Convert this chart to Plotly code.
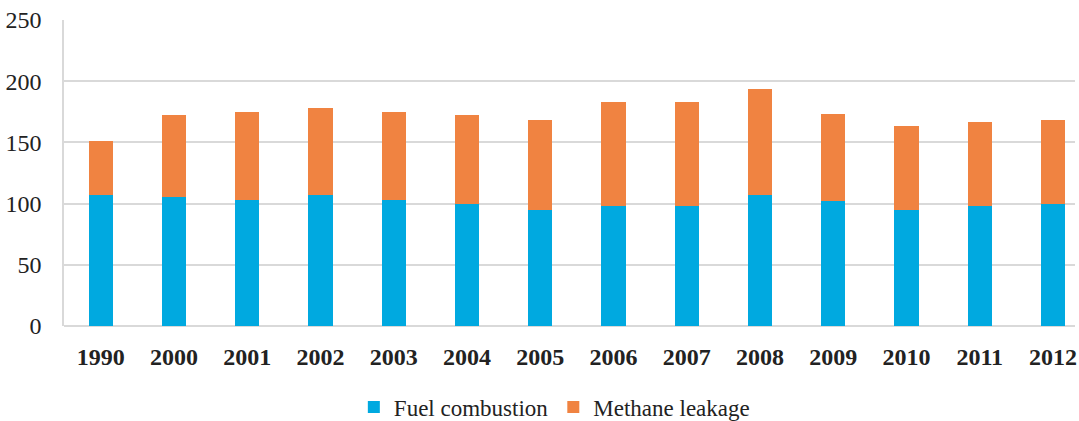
import plotly.graph_objects as go

years = ["1990", "2000", "2001", "2002", "2003", "2004", "2005", "2006", "2007", "2008", "2009", "2010", "2011", "2012"]
fuel_combustion = [107, 105, 103, 107, 103, 100, 95, 98, 98, 107, 102, 95, 98, 100]
methane_leakage = [44, 67, 72, 71, 72, 72, 73, 85, 85, 87, 71, 68, 69, 68]
y_ticks = [0, 50, 100, 150, 200, 250]

fig = go.Figure()
fig.add_trace(go.Bar(x=years, y=fuel_combustion, name="Fuel combustion",
                     marker=dict(color="#00A9E0", line=dict(width=0))))
fig.add_trace(go.Bar(x=years, y=methane_leakage, name="Methane leakage",
                     marker=dict(color="#F08341", line=dict(width=0))))

fig.update_layout(
    barmode="stack",
    bargap=0.67,
    width=1079, height=421,
    margin=dict(l=64, r=4, t=20, b=95, autoexpand=False),
    paper_bgcolor="white", plot_bgcolor="white",
    font=dict(family="Liberation Serif", color="#222222"),
    showlegend=True,
    legend=dict(orientation="h", x=0.485, xanchor="center", y=-0.265, yanchor="middle",
                font=dict(size=23, family="Liberation Serif", color="#222222"),
                itemwidth=30, traceorder="normal"),
    xaxis=dict(type="category", range=[-0.5, 13.3], showgrid=False,
               showline=False, ticks="", ticklabelstandoff=14,
               tickfont=dict(size=24, family="Liberation Serif", color="#222222", weight="bold")),
    yaxis=dict(range=[0, 250], tickvals=y_ticks, showgrid=True, gridcolor="#D9D9D9", gridwidth=1.5,
               zeroline=True, zerolinecolor="#D9D9D9", zerolinewidth=1.5,
               showline=True, linecolor="#D9D9D9", linewidth=1.5,
               ticks="", ticklabelstandoff=16,
               tickfont=dict(size=24, family="Liberation Serif", color="#222222")),
)

fig.write_html("out.html", config={"displayModeBar": False},
               post_script="document.body.style.margin='0';")
